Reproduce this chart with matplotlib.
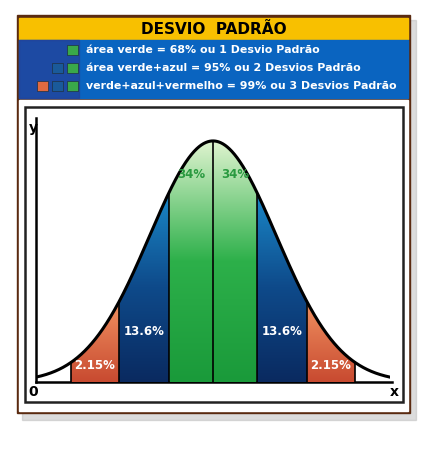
import numpy as np
import matplotlib.pyplot as plt
from matplotlib.patches import Rectangle, Polygon
from matplotlib.colors import LinearSegmentedColormap

TITLE = "DESVIO  PADRÃO"
LEGEND_LINES = ["área verde = 68% ou 1 Desvio Padrão",
                "área verde+azul = 95% ou 2 Desvios Padrão",
                "verde+azul+vermelho = 99% ou 3 Desvios Padrão"]
LEGEND_SWATCHES = [["g"], ["b", "g"], ["r", "b", "g"]]
# stylised boundaries (as drawn in the picture)
BOUNDS = [-3.25, -2.15, -1, 0, 1, 2.15, 3.25]
PCT_LABELS = ["2.15%", "13.6%", "34%", "34%", "13.6%", "2.15%"]
SPREAD = 1.45

W, H = 446, 451
fig = plt.figure(figsize=(W / 100, H / 100), dpi=100)
fig.patch.set_facecolor("white")

def px(x, y, w, h):
    return [x / W, 1 - (y + h) / H, w / W, h / H]

bg = fig.add_axes([0, 0, 1, 1]); bg.set_xlim(0, W); bg.set_ylim(H, 0); bg.axis("off")
bg.add_patch(Rectangle((22, 20), 394, 400, color="#bbbbbb", alpha=0.5))
bg.add_patch(Rectangle((17, 15), 393, 398, color="#5a2a10"))
bg.add_patch(Rectangle((19, 18), 389, 21, color="#f8c000"))
bg.text(214, 29, TITLE, ha="center", va="center", fontsize=11, fontweight="bold")
bg.add_patch(Rectangle((19, 40), 389, 58, color="#0a64c0"))
bg.add_patch(Rectangle((19, 40), 60, 58, color="#2a3a90", alpha=0.6))
sw = {"g": "#3aa84a", "b": "#1a5a9a", "r": "#e06a40"}
for i, (line, sws) in enumerate(zip(LEGEND_LINES, LEGEND_SWATCHES)):
    y = 50 + i * 18
    bg.text(86, y, line, ha="left", va="center", fontsize=7.9,
            fontweight="bold", color="white")
    for j, c in enumerate(reversed(sws)):
        bg.add_patch(Rectangle((67 - j * 15, y - 5), 11, 10, color=sw[c],
                               ec="#203040", lw=0.5))
bg.add_patch(Rectangle((19, 100), 389, 311, color="white"))
bg.add_patch(Rectangle((25, 107), 378, 295, fc="none", ec="#222222", lw=1.8))

ax = fig.add_axes(px(36, 112, 354, 270))
ax.set_xlim(-4.05, 4.05); ax.set_ylim(0, 1.12)
ax.axis("off")

x = np.linspace(-4.05, 4.05, 800)
f = np.exp(-x ** 2 / (2 * SPREAD ** 2))

cmaps = {
    "g": LinearSegmentedColormap.from_list("g", ["#1a9a3a", "#2db04a", "#e0f4d0"]),
    "b": LinearSegmentedColormap.from_list("b", ["#0a2a60", "#0e4a8a", "#1a88c8"]),
    "r": LinearSegmentedColormap.from_list("r", ["#c84a30", "#f09060"]),
}
regions = ["r", "b", "g", "g", "b", "r"]
grad = np.linspace(0, 1, 256).reshape(-1, 1)
for k, c in enumerate(regions):
    a, b = BOUNDS[k], BOUNDS[k + 1]
    m = (x >= a) & (x <= b)
    xs = np.concatenate([[a], x[m], [b]])
    ys = np.concatenate([[0], f[m], [0]])
    poly = Polygon(np.column_stack([xs, ys]), closed=True, fc="none", ec="none")
    ax.add_patch(poly)
    top = f[m].max()
    im = ax.imshow(grad, extent=[a, b, 0, top], origin="lower",
                   cmap=cmaps[c], aspect="auto", zorder=1)
    im.set_clip_path(poly)
for b in BOUNDS:
    ax.plot([b, b], [0, np.exp(-b ** 2 / (2 * SPREAD ** 2))],
            color="black", lw=1.2, zorder=3)
ax.plot(x, f, color="black", lw=2.2, zorder=4)

label_y = [0.07, 0.21, 0.86, 0.86, 0.21, 0.07]
for k, (lab, ly) in enumerate(zip(PCT_LABELS, label_y)):
    cx = (BOUNDS[k] + BOUNDS[k + 1]) / 2
    col = "#2a9a40" if regions[k] == "g" else "white"
    ax.text(cx, ly, lab, ha="center", va="center", fontsize=8.5,
            fontweight="bold", color=col, zorder=5)

bg.plot([36, 36], [118, 382], color="black", lw=1.8)
bg.plot([36, 392], [382, 382], color="black", lw=1.8)
bg.text(33, 128, "y", ha="center", va="center", fontsize=10, fontweight="bold")
bg.text(33, 392, "0", ha="center", va="center", fontsize=10, fontweight="bold")
bg.text(394, 392, "x", ha="center", va="center", fontsize=10, fontweight="bold")

fig.savefig("out.png", dpi=100)
